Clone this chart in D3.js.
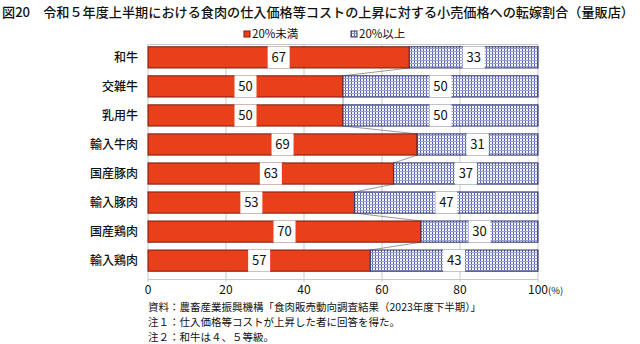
<!DOCTYPE html>
<html><head><meta charset="utf-8">
<script src="https://cdn.jsdelivr.net/npm/d3@7"></script>
<style>body{margin:0;background:#fff}svg{display:block}text{font-family:"Noto Sans CJK JP","Noto Sans",sans-serif}</style>
</head><body><svg id="c" width="640" height="344"></svg>
<script>
const categories = ["和牛","交雑牛","乳用牛","輸入牛肉","国産豚肉","輸入豚肉","国産鶏肉","輸入鶏肉"];
const under20 = [67,50,50,69,63,53,70,57];
const over20 = [33,50,50,31,37,47,30,43];
const seriesNames = ["20%未満","20%以上"];
const xTicks = [0,20,40,60,80,100];
const notes = ["資料：農畜産業振興機構「食肉販売動向調査結果（2023年度下半期）」","注１：仕入価格等コストが上昇した者に回答を得た。","注２：和牛は４、５等級。"];
const title = "図20　令和５年度上半期における食肉の仕入価格等コストの上昇に対する小売価格への転嫁割合（量販店）";

const svg = d3.select("#c");
const defs = svg.append("defs");
const pat = defs.append("pattern").attr("id","grid").attr("patternUnits","userSpaceOnUse").attr("width",3).attr("height",3);
pat.append("rect").attr("width",3).attr("height",3).attr("fill","#f4f5fb");
pat.append("line").attr("x1",0.5).attr("x2",0.5).attr("y1",0).attr("y2",3).attr("stroke","#5560b2").attr("stroke-width",1);
pat.append("line").attr("x1",0).attr("x2",3).attr("y1",0.5).attr("y2",0.5).attr("stroke","#9aa0d2").attr("stroke-width",1);

const x = d3.scaleLinear().domain([0,100]).range([148,538]);
const y = d3.scaleBand().domain(categories).range([43,275]).paddingInner(0.27).paddingOuter(0.13);

svg.append("text").attr("x",2).attr("y",17).attr("font-size",13).attr("font-weight",500).attr("fill","#111")
  .attr("textLength",632).attr("lengthAdjust","spacingAndGlyphs").text(title);

// gridlines
svg.append("g").selectAll("line").data(xTicks).join("line")
  .attr("x1",d=>x(d)).attr("x2",d=>x(d)).attr("y1",44).attr("y2",282)
  .attr("stroke","#c8c8c8").attr("stroke-width",1);
svg.append("line").attr("x1",x(0)).attr("x2",x(100)).attr("y1",44.5).attr("y2",44.5).attr("stroke","#c8c8c8");
svg.append("line").attr("x1",x(0)).attr("x2",x(100)).attr("y1",279.5).attr("y2",279.5).attr("stroke","#c8c8c8");

const data = categories.map((c,i)=>({c, a:under20[i], b:over20[i]}));

// series lines
const lines = svg.append("g");
for(let i=0;i<data.length-1;i++){
  lines.append("line").attr("x1",x(data[i].a)).attr("y1",y(data[i].c)+y.bandwidth())
    .attr("x2",x(data[i+1].a)).attr("y2",y(data[i+1].c)).attr("stroke","#9a9a9a").attr("stroke-width",1);
}

const bars = svg.append("g");
bars.selectAll("rect.r").data(data).join("rect").attr("class","r")
  .attr("x",x(0)).attr("y",d=>y(d.c)).attr("width",d=>x(d.a)-x(0)).attr("height",y.bandwidth())
  .attr("fill","#e9401c").attr("stroke","#7a1a0a").attr("stroke-width",1);
bars.selectAll("rect.b").data(data).join("rect").attr("class","b")
  .attr("x",d=>x(d.a)).attr("y",d=>y(d.c)).attr("width",d=>x(d.a+d.b)-x(d.a)).attr("height",y.bandwidth())
  .attr("fill","url(#grid)").attr("stroke","#2a2f66").attr("stroke-width",1);

// labels
function label(cx, cy, t){
  svg.append("rect").attr("x",cx-11).attr("y",cy-11).attr("width",22).attr("height",22).attr("fill","#fff");
  svg.append("text").attr("x",cx).attr("y",cy+4.5).attr("text-anchor","middle").attr("font-size",13).attr("fill","#111").text(t);
}
data.forEach(d=>{
  const cy = y(d.c)+y.bandwidth()/2;
  label(x(d.a/2), cy, d.a);
  label(x(d.a+d.b/2), cy, d.b);
});

// category labels
svg.append("g").selectAll("text").data(categories).join("text")
  .attr("x",138).attr("y",d=>y(d)+y.bandwidth()/2+4.5).attr("text-anchor","end").attr("font-size",12).attr("font-weight",500).attr("fill","#111").text(d=>d);

// x axis labels
svg.append("g").selectAll("text").data(xTicks).join("text")
  .attr("x",d=>x(d)).attr("y",294).attr("text-anchor","middle").attr("font-size",12).attr("fill","#111")
  .each(function(d){ const t=d3.select(this); t.text(d); if(d===100){ t.attr("text-anchor","start").attr("x",x(d)-10); t.append("tspan").attr("font-size",9.5).text("(%)"); }});

// legend
const lg = svg.append("g");
lg.append("rect").attr("x",244).attr("y",31).attr("width",6).attr("height",6).attr("fill","#e9401c").attr("stroke","#7a1a0a");
lg.append("text").attr("x",252).attr("y",38).attr("font-size",11.5).attr("fill","#111").text(seriesNames[0]);
lg.append("rect").attr("x",351).attr("y",31).attr("width",6).attr("height",6).attr("fill","url(#grid)").attr("stroke","#2a2f66");
lg.append("text").attr("x",359).attr("y",38).attr("font-size",11.5).attr("fill","#111").text(seriesNames[1]);

// notes
svg.append("g").selectAll("text").data(notes).join("text")
  .attr("x",148).attr("y",(d,i)=>311+i*15).attr("font-size",10.5).attr("fill","#111").text(d=>d);
</script></body></html>
